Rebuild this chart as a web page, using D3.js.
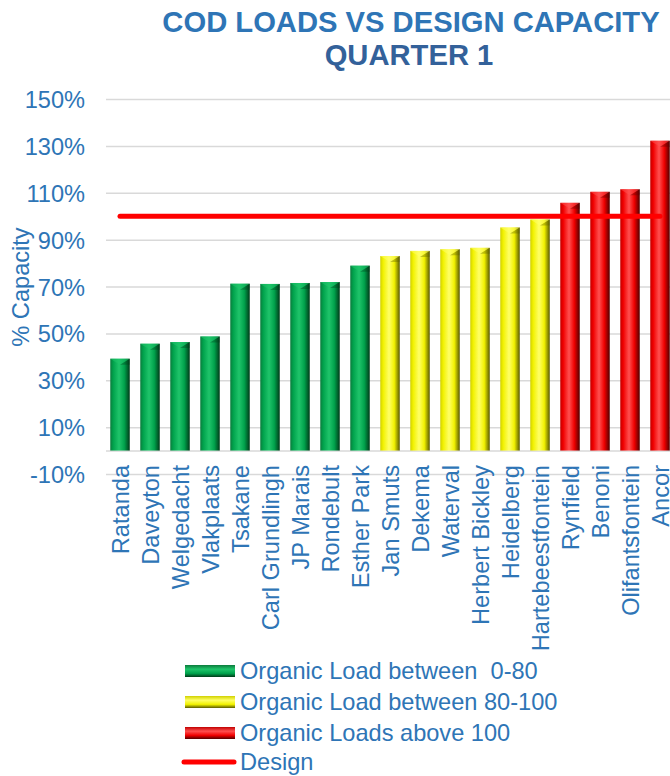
<!DOCTYPE html>
<html>
<head>
<meta charset="utf-8">
<script src="https://cdn.jsdelivr.net/npm/d3@7/dist/d3.min.js"></script>
<style>
html,body{margin:0;padding:0;background:#fff;}
svg text{font-family:"Liberation Sans",Arial,sans-serif;}
</style>
</head>
<body>
<svg id="chart" width="670" height="776"></svg>
<script>
// ---- data ----
const categories = ["Ratanda","Daveyton","Welgedacht","Vlakplaats","Tsakane","Carl Grundlingh","JP Marais","Rondebult","Esther Park","Jan Smuts","Dekema","Waterval","Herbert Bickley","Heidelberg","Hartebeestfontein","Rynfield","Benoni","Olifantsfontein","Ancor"];
const values = [39.2,45.6,46.3,48.7,71.2,71.1,71.5,71.9,78.9,83.0,85.2,85.9,86.5,95.2,98.6,105.7,110.4,111.5,132.2];
const groups = ["green","green","green","green","green","green","green","green","green","yellow","yellow","yellow","yellow","yellow","yellow","red","red","red","red"];
const designValue = 100;
const yTicks = [-10,10,30,50,70,90,110,130,150];
const legendLabels = ["Organic Load between  0-80","Organic Load between 80-100","Organic Loads above 100","Design"];
const titleLines = ["COD LOADS VS DESIGN CAPACITY","QUARTER 1"];

const svg = d3.select("#chart");
const textColor = "#2E75B6";
const fs = 23.6;

const palette = {
  green: {light:"#1FC46A", mid:"#00A24C", dark:"#003A18", edge:"#0C7A3C"},
  yellow:{light:"#FFFF66", mid:"#F2F200", dark:"#5A5A00", edge:"#D0D000"},
  red:   {light:"#FF5050", mid:"#F00000", dark:"#500000", edge:"#C00000"}
};

const defs = svg.append("defs");
Object.entries(palette).forEach(([k,c])=>{
  const g = defs.append("linearGradient").attr("id","bar-"+k).attr("x1","0").attr("x2","1").attr("y1","0").attr("y2","0");
  g.append("stop").attr("offset","0").attr("stop-color",c.edge);
  g.append("stop").attr("offset","0.15").attr("stop-color",c.mid);
  g.append("stop").attr("offset","0.45").attr("stop-color",c.light);
  g.append("stop").attr("offset","0.72").attr("stop-color",c.mid);
  g.append("stop").attr("offset","1").attr("stop-color",c.dark);
  const v = defs.append("linearGradient").attr("id","leg-"+k).attr("x1","0").attr("x2","0").attr("y1","0").attr("y2","1");
  v.append("stop").attr("offset","0").attr("stop-color",c.edge);
  v.append("stop").attr("offset","0.35").attr("stop-color",c.light);
  v.append("stop").attr("offset","0.7").attr("stop-color",c.mid);
  v.append("stop").attr("offset","1").attr("stop-color",c.dark);
});

// ---- scales ----
const x = d3.scaleBand().domain(categories).range([105,675]).paddingInner(0.35).paddingOuter(0.175);
const y = d3.scaleLinear().domain([-10,150]).range([474,99]);

// ---- gridlines ----
svg.append("g").attr("transform","translate(106,0)")
  .call(d3.axisLeft(y).tickValues(yTicks.concat([0])).tickSize(-570).tickFormat(""))
  .call(g=>g.select(".domain").remove())
  .call(g=>g.selectAll("line").attr("stroke","#D9D9D9").attr("stroke-width",1.5));

// ---- y axis labels ----
svg.append("g").attr("transform","translate(88,0)")
  .call(d3.axisLeft(y).tickValues(yTicks).tickSize(0).tickPadding(3).tickFormat(d=>d+"%"))
  .call(g=>g.select(".domain").remove())
  .call(g=>g.selectAll("text").attr("fill",textColor).attr("font-size",fs).attr("dy","0.36em")
     .style("font-family","'Liberation Sans',Arial,sans-serif"));

svg.append("text").attr("transform","translate(29,287) rotate(-90)")
  .attr("text-anchor","middle").attr("fill",textColor).attr("font-size",fs).text("% Capacity");

// ---- bars ----
const data = categories.map((c,i)=>({c, v:values[i], g:groups[i]}));
const bars = svg.append("g");
bars.selectAll("rect").data(data).join("rect")
  .attr("x",d=>x(d.c)).attr("width",x.bandwidth())
  .attr("y",d=>y(d.v)).attr("height",d=>y(0)-y(d.v))
  .attr("fill",d=>"url(#bar-"+d.g+")");
bars.selectAll("path.bevel").data(data).join("path").attr("class","bevel")
  .attr("d",d=>{const x0=x(d.c), w=x.bandwidth(), t=y(d.v);
    return `M${x0},${t} L${x0+w},${t} L${x0+w/2},${t+6} Z`;})
  .attr("fill",d=>palette[d.g].light).attr("opacity",0.55);
bars.selectAll("path.bevel2").data(data).join("path").attr("class","bevel2")
  .attr("d",d=>{const x0=x(d.c), w=x.bandwidth(), t=y(d.v);
    return `M${x0+w},${t} L${x0+w},${t+6} L${x0+w/2},${t+6} Z`;})
  .attr("fill",d=>palette[d.g].dark).attr("opacity",0.35);

// ---- design line ----
const line = d3.line().x(d=>x(d)+x.bandwidth()/2).y(()=>y(designValue));
svg.append("path").datum([categories[0],categories[categories.length-1]])
  .attr("d",line).attr("stroke","#FF0000").attr("stroke-width",5)
  .attr("stroke-linecap","round").attr("fill","none");

// ---- x axis labels ----
svg.append("g").attr("transform","translate(0,465)")
  .call(d3.axisBottom(x).tickSize(0).tickPadding(0))
  .call(g=>g.select(".domain").remove())
  .call(g=>g.selectAll("text").attr("fill",textColor).attr("font-size",fs)
     .attr("transform","rotate(-90)").attr("text-anchor","end")
     .attr("x",0).attr("y",0).attr("dy","0.38em").attr("dx",0)
     .style("font-family","'Liberation Sans',Arial,sans-serif"));

// ---- title ----
svg.append("text").attr("x",411).attr("y",32).attr("text-anchor","middle")
  .attr("font-size",29.2).attr("font-weight","bold").attr("fill","#2E75B6").text(titleLines[0]);
svg.append("text").attr("x",409).attr("y",65).attr("text-anchor","middle")
  .attr("font-size",29.2).attr("font-weight","bold").attr("fill","#33619A").text(titleLines[1]);

// ---- legend ----
const legKeys = ["green","yellow","red","design"];
const legY = [671,702,733,762];
const leg = svg.append("g");
legKeys.forEach((k,i)=>{
  if(k==="design"){
    leg.append("line").attr("x1",184).attr("x2",234).attr("y1",legY[i]).attr("y2",legY[i])
      .attr("stroke","#FF0000").attr("stroke-width",5).attr("stroke-linecap","round");
  } else {
    leg.append("rect").attr("x",185).attr("y",legY[i]-6).attr("width",50).attr("height",12)
      .attr("fill","url(#leg-"+k+")");
  }
  leg.append("text").attr("x",240).attr("y",legY[i]).attr("dy","0.36em")
    .attr("font-size",fs).attr("fill",textColor).style("white-space","pre").text(legendLabels[i]);
});
</script>
</body>
</html>
